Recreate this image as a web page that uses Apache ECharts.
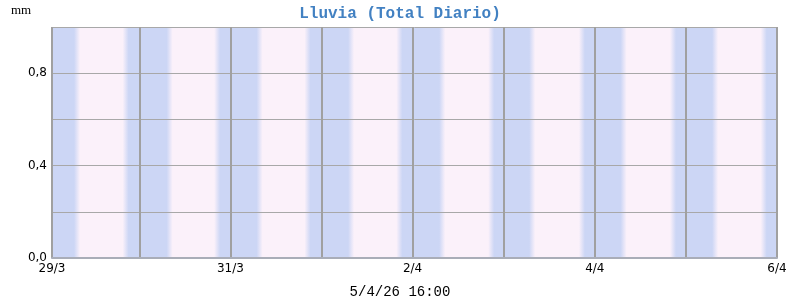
<!DOCTYPE html>
<html>
<head>
<meta charset="utf-8">
<script src="https://cdn.jsdelivr.net/npm/echarts@6/dist/echarts.min.js"></script>
<style>html,body{margin:0;padding:0;background:#fff}#c{width:800px;height:300px}</style>
</head>
<body>
<div id="c"></div>
<script>
// ---- data ----
const dayLabels = ['29/3','30/3','31/3','1/4','2/4','3/4','4/4','5/4','6/4'];
const hoursPerDay = [23,24,24,24,24,24,24,24];          // 29/3 is the DST change day
const sunrise = [7.6, 8.0, 7.7, 7.8, 7.8, 7.5, 7.6, 7.7]; // local clock hours (read from shading)
const sunset  = [20.4, 20.5, 20.3, 20.5, 20.7, 20.6, 20.6, 20.5];
const rain = [0, 0, 0, 0, 0, 0, 0, 0];                   // daily total, mm
const yLabelValues = [0, 0.4, 0.8];
const titleText = 'Lluvia (Total Diario)';
const stampText = '5/4/26 16:00';
const unitText = 'mm';

// ---- derived ----
const dayStart = [0];
hoursPerDay.forEach(h => dayStart.push(dayStart[dayStart.length - 1] + h));
const totalHours = dayStart[dayStart.length - 1];
const categories = [];
for (let h = 0; h <= totalHours; h++) {
  let d = 0;
  while (d < dayStart.length - 1 && h >= dayStart[d + 1]) d++;
  categories.push(dayLabels[d] + ' ' + (h - dayStart[d]) + 'h');
}
const boundary = new Set(dayStart);
const labelIdx = new Set(dayStart.filter((v, i) => i % 2 === 0));
const elapsed = (d, clock) => dayStart[d] + clock - (24 - hoursPerDay[d]);
const nights = [];
let prev = 0;
for (let d = 0; d < hoursPerDay.length; d++) {
  nights.push([prev, elapsed(d, sunrise[d])]);
  prev = elapsed(d, sunset[d]);
}
nights.push([prev, totalHours]);
const rainPoints = rain.map((v, d) => [Math.round(dayStart[d] + hoursPerDay[d] / 2), v]);

const BLUE = [204, 214, 245];
const PINK = '#fbf1fa';
const FADE = 3; // px of soft edge on each side of a transition

const chart = echarts.init(document.getElementById('c'), null, {renderer: 'canvas'});
chart.setOption({
  animation: false,
  title: {
    text: titleText, left: 'center', top: 1,
    textStyle: {fontFamily: 'Liberation Mono', fontSize: 16, fontWeight: 'bold', color: '#4281c2'}
  },
  graphic: [
    {type: 'text', left: 11, top: 4, style: {text: unitText, font: '13px "Liberation Serif"', fill: '#000'}},
    {type: 'text', left: 'center', top: 285, style: {text: stampText, font: '14px "Liberation Mono"', fill: '#000'}}
  ],
  grid: {left: 52, right: 23, top: 27, bottom: 42, containLabel: false},
  xAxis: [
    {
      type: 'category', data: categories, boundaryGap: false, z: 5,
      axisLine: {show: true, lineStyle: {color: '#a9adb8', width: 2}},
      axisTick: {show: false},
      axisLabel: {
        interval: (i) => labelIdx.has(i),
        formatter: (v) => v.split(' ')[0],
        fontFamily: 'DejaVu Sans', fontSize: 12, color: '#000', margin: 5
      },
      splitLine: {show: true, interval: (i) => boundary.has(i), lineStyle: {color: '#a0a0a0', width: 2}}
    },
    {type: 'value', min: 0, max: totalHours, show: false}
  ],
  yAxis: {
    type: 'value', min: 0, max: 1, interval: 0.2, z: 5,
    axisLine: {show: false}, axisTick: {show: false},
    axisLabel: {
      formatter: (v) => yLabelValues.some(y => Math.abs(y - v) < 1e-6) ? v.toFixed(1).replace('.', ',') : '',
      fontFamily: 'DejaVu Sans', fontSize: 12, color: '#000', margin: 5
    },
    splitLine: {show: true, lineStyle: {color: '#a8a8a8', width: 1}}
  },
  series: [
    {
      type: 'custom', xAxisIndex: 1, yAxisIndex: 0, z: 1, silent: true,
      data: [[0, totalHours, 0]].concat(nights.map(n => [n[0], n[1], 1])),
      renderItem: function (params, api) {
        const a = api.value(0), b = api.value(1), kind = api.value(2);
        const p0 = api.coord([a, 1]), p1 = api.coord([b, 0]);
        let x0 = p0[0], x1 = p1[0];
        const h = p1[1] - p0[1];
        let fill;
        if (kind === 0) {
          fill = PINK;
        } else {
          const softL = a > 0, softR = b < totalHours;
          if (softL) x0 -= FADE;
          if (softR) x1 += FADE;
          const w = x1 - x0;
          const f = Math.min(0.45, 2 * FADE / w);
          const c1 = 'rgba(' + BLUE.join(',') + ',1)';
          const c0 = 'rgba(' + BLUE.join(',') + ',0)';
          fill = new echarts.graphic.LinearGradient(0, 0, 1, 0, [
            {offset: 0, color: softL ? c0 : c1},
            {offset: f, color: c1},
            {offset: 1 - f, color: c1},
            {offset: 1, color: softR ? c0 : c1}
          ]);
        }
        return {type: 'rect', shape: {x: x0, y: p0[1], width: x1 - x0, height: h}, style: {fill: fill}};
      }
    },
    {
      type: 'bar', name: 'Lluvia', xAxisIndex: 0, data: rainPoints, barWidth: 20,
      itemStyle: {color: '#3f7fbf'}, z: 3
    }
  ]
});
</script>
</body>
</html>
